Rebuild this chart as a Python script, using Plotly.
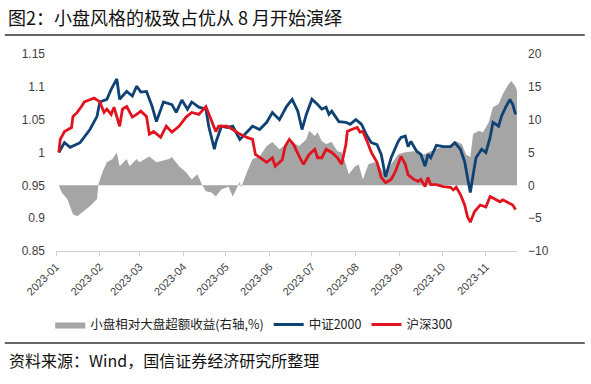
import plotly.graph_objects as go

# 中证2000 (left axis, normalized)
zz2000_dates = ["2023-01-03","2023-01-07","2023-01-11","2023-01-18","2023-01-25","2023-01-30","2023-02-01","2023-02-06",
"2023-02-09","2023-02-13","2023-02-15","2023-02-20","2023-02-24","2023-02-27","2023-03-02","2023-03-06","2023-03-10",
"2023-03-13","2023-03-18","2023-03-24","2023-03-27","2023-03-31","2023-04-04","2023-04-07","2023-04-12","2023-04-17",
"2023-04-19","2023-04-23","2023-04-24","2023-04-28","2023-05-02","2023-05-06","2023-05-11","2023-05-16","2023-05-20",
"2023-05-25","2023-05-30","2023-06-03","2023-06-08","2023-06-13","2023-06-17","2023-06-21","2023-06-24","2023-06-27",
"2023-07-01","2023-07-05","2023-07-08","2023-07-11","2023-07-13","2023-07-15","2023-07-20","2023-07-25","2023-07-28",
"2023-08-01","2023-08-05","2023-08-09","2023-08-12","2023-08-16","2023-08-19","2023-08-22","2023-08-26","2023-08-31",
"2023-09-02","2023-09-05","2023-09-07","2023-09-09","2023-09-13","2023-09-16","2023-09-19","2023-09-21","2023-09-23",
"2023-09-27","2023-10-02","2023-10-07","2023-10-10","2023-10-14","2023-10-17","2023-10-19","2023-10-21","2023-10-23",
"2023-10-25","2023-10-29","2023-11-01","2023-11-04","2023-11-06","2023-11-10","2023-11-12","2023-11-15","2023-11-18",
"2023-11-20","2023-11-22"]
zz2000_values = [1.000,1.015,1.008,1.015,1.035,1.055,1.077,1.081,
1.096,1.112,1.081,1.093,1.086,1.101,1.092,1.093,1.070,
1.047,1.077,1.073,1.061,1.080,1.066,1.077,1.069,1.066,
1.040,1.005,1.015,1.040,1.038,1.040,1.020,1.032,1.040,
1.035,1.046,1.061,1.050,1.070,1.081,1.063,1.035,1.058,
1.081,1.073,1.066,1.069,1.058,1.063,1.047,1.046,1.043,
1.050,1.043,1.025,1.015,1.012,0.997,0.963,0.992,1.017,
1.023,1.025,1.009,1.017,1.002,0.997,0.979,0.997,0.992,
1.011,1.009,1.009,1.015,1.005,0.986,0.962,0.939,0.966,
0.992,1.005,1.000,1.023,1.046,1.040,1.055,1.069,1.081,
1.073,1.058]

# 沪深300 (left axis, normalized)
hs300_dates = ["2023-01-03","2023-01-04","2023-01-07","2023-01-12","2023-01-13","2023-01-16","2023-01-19","2023-01-21",
"2023-01-28","2023-02-01","2023-02-04","2023-02-06","2023-02-09","2023-02-11","2023-02-15","2023-02-17","2023-02-20",
"2023-02-24","2023-02-27","2023-03-02","2023-03-06","2023-03-08","2023-03-11","2023-03-16","2023-03-20","2023-03-24",
"2023-03-29","2023-04-03","2023-04-07","2023-04-12","2023-04-17","2023-04-21","2023-04-24","2023-04-26","2023-05-02",
"2023-05-06","2023-05-11","2023-05-16","2023-05-20","2023-05-22","2023-05-27","2023-05-30","2023-06-03","2023-06-05",
"2023-06-10","2023-06-12","2023-06-15","2023-06-18","2023-06-22","2023-06-25","2023-06-29","2023-07-03","2023-07-05",
"2023-07-08","2023-07-11","2023-07-15","2023-07-19","2023-07-22","2023-07-25","2023-07-26","2023-07-29","2023-08-02",
"2023-08-04","2023-08-06","2023-08-09","2023-08-12","2023-08-16","2023-08-19","2023-08-22","2023-08-26","2023-08-29",
"2023-08-31","2023-09-02","2023-09-05","2023-09-07","2023-09-11","2023-09-14","2023-09-16","2023-09-19","2023-09-21",
"2023-09-23","2023-09-27","2023-10-02","2023-10-07","2023-10-09","2023-10-11","2023-10-14","2023-10-17","2023-10-19",
"2023-10-21","2023-10-24","2023-10-28","2023-11-01","2023-11-04","2023-11-08","2023-11-11","2023-11-13","2023-11-17",
"2023-11-20","2023-11-22"]
hs300_values = [1.000,1.020,1.032,1.038,1.055,1.061,1.070,1.077,
1.083,1.077,1.061,1.066,1.058,1.069,1.040,1.066,1.070,
1.054,1.058,1.063,1.055,1.028,1.032,1.023,1.040,1.031,
1.040,1.054,1.061,1.058,1.070,1.047,1.032,1.040,1.040,
1.035,1.028,1.023,1.020,0.997,0.989,0.985,0.992,0.979,
0.989,1.009,1.020,1.012,0.994,0.982,0.997,1.005,0.992,
0.992,1.005,1.000,0.992,0.982,1.012,1.032,1.035,1.038,
1.031,1.032,1.017,1.000,0.985,0.962,0.954,0.959,0.971,
0.982,0.994,0.982,0.966,0.959,0.956,0.959,0.948,0.962,
0.951,0.951,0.948,0.947,0.943,0.947,0.936,0.920,0.902,
0.894,0.910,0.920,0.917,0.933,0.928,0.925,0.928,0.924,
0.920,0.913]

# 小盘相对大盘超额收益 (right axis, %)
excess_dates = ["2023-01-03","2023-01-05","2023-01-09","2023-01-13","2023-01-16","2023-01-20","2023-01-25","2023-01-30",
"2023-01-31","2023-02-03","2023-02-06","2023-02-10","2023-02-13","2023-02-15","2023-02-20","2023-02-22","2023-02-27",
"2023-03-01","2023-03-08","2023-03-13","2023-03-17","2023-03-22","2023-03-24","2023-03-29","2023-04-03","2023-04-07",
"2023-04-11","2023-04-14","2023-04-17","2023-04-21","2023-04-24","2023-04-28","2023-05-03","2023-05-06","2023-05-11",
"2023-05-12","2023-05-16","2023-05-20","2023-05-25","2023-05-30","2023-06-03","2023-06-08","2023-06-13","2023-06-17",
"2023-06-22","2023-06-27","2023-06-29","2023-07-03","2023-07-05","2023-07-08","2023-07-11","2023-07-15","2023-07-19",
"2023-07-22","2023-07-25","2023-07-27","2023-07-31","2023-08-03","2023-08-06","2023-08-10","2023-08-14","2023-08-17",
"2023-08-22","2023-08-26","2023-08-31","2023-09-04","2023-09-11","2023-09-18","2023-09-23","2023-09-30","2023-10-07",
"2023-10-11","2023-10-15","2023-10-18","2023-10-21","2023-10-23","2023-10-27","2023-10-30","2023-11-03","2023-11-06",
"2023-11-10","2023-11-13","2023-11-17","2023-11-19","2023-11-22","2023-11-23"]
excess_values = [0.0,-1.1,-2.1,-4.4,-4.7,-4.0,-3.2,-2.1,
0.2,2.1,3.5,4.0,5.0,2.9,4.0,2.9,4.0,
3.5,4.4,3.5,3.7,4.0,4.3,2.9,2.0,0.9,
1.7,0.2,-0.9,-1.1,-1.7,-0.6,-0.2,-1.7,0.5,
-0.3,2.0,4.0,4.4,6.0,6.6,5.5,6.3,6.6,
6.0,7.0,8.3,7.5,8.1,6.7,6.3,6.6,5.2,
5.0,3.2,1.7,2.8,3.2,0.9,3.2,3.5,3.2,
1.4,3.2,4.7,5.0,5.2,4.7,5.2,5.8,6.0,
6.7,6.3,4.7,4.3,7.8,8.3,8.1,9.6,11.9,
12.4,13.9,15.4,15.9,15.0,14.4]

month_ticks = ["2023-01-01","2023-02-01","2023-03-01","2023-04-01","2023-05-01","2023-06-01",
               "2023-07-01","2023-08-01","2023-09-01","2023-10-01","2023-11-01"]
month_labels = ["2023-01","2023-02","2023-03","2023-04","2023-05","2023-06",
                "2023-07","2023-08","2023-09","2023-10","2023-11"]
left_ticks = [0.85, 0.9, 0.95, 1.0, 1.05, 1.1, 1.15]
left_labels = ["0.85", "0.9", "0.95", "1", "1.05", "1.1", "1.15"]
right_ticks = [-10, -5, 0, 5, 10, 15, 20]
right_labels = ["−10", "−5", "0", "5", "10", "15", "20"]

GRAY = "#A5A5A5"
BLUE = "#0E4275"
RED = "#E0141E"
TICKFONT = dict(family="Liberation Sans, Arial", size=12, color="#404040")

fig = go.Figure()
fig.add_trace(go.Scatter(x=excess_dates, y=excess_values, name="小盘相对大盘超额收益(右轴,%)",
                         mode="lines", line=dict(width=0, color=GRAY), fill="tozeroy",
                         fillcolor=GRAY, yaxis="y"))
fig.add_trace(go.Scatter(x=zz2000_dates, y=zz2000_values, name="中证2000", mode="lines",
                         line=dict(color=BLUE, width=2.8), yaxis="y2"))
fig.add_trace(go.Scatter(x=hs300_dates, y=hs300_values, name="沪深300", mode="lines",
                         line=dict(color=RED, width=2.8), yaxis="y2"))

fig.update_layout(
    width=591, height=384,
    margin=dict(l=56, r=74, t=54, b=133),
    paper_bgcolor="white", plot_bgcolor="white",
    showlegend=True,
    legend=dict(orientation="h", x=0.43, xanchor="center", y=-0.375, yanchor="middle",
                font=dict(family="Noto Sans CJK SC", size=12.5, color="#222"),
                itemwidth=30, bgcolor="rgba(0,0,0,0)", traceorder="normal"),
    xaxis=dict(type="date", range=["2023-01-01", "2023-11-23"], tickvals=month_ticks,
               ticktext=month_labels, tickangle=-45, showgrid=False, zeroline=False,
               showline=True, linecolor="#D0D0D0", linewidth=1, ticks="outside",
               ticklen=4, tickcolor="#D0D0D0", automargin=False,
               tickfont=dict(family="Liberation Sans, Arial", size=11, color="#404040")),
    yaxis=dict(side="right", range=[-10, 20], tickvals=right_ticks, ticktext=right_labels,
               showgrid=False, zeroline=False, showline=False, ticks="", tickfont=TICKFONT,
               ticklabelstandoff=10, automargin=False),
    yaxis2=dict(side="left", overlaying="y", range=[0.85, 1.15], tickvals=left_ticks,
                ticktext=left_labels, showgrid=False, zeroline=False, showline=False,
                ticks="", tickfont=TICKFONT, ticklabelstandoff=10, automargin=False),
)

fig.add_annotation(text="图2：小盘风格的极致占优从 8 月开始演绎", xref="paper", yref="paper",
                   x=-0.108, y=1.188, xanchor="left", yanchor="middle", showarrow=False,
                   font=dict(family="Noto Sans CJK SC", size=18, color="#111"))
fig.add_annotation(text="资料来源：Wind，国信证券经济研究所整理", xref="paper", yref="paper",
                   x=-0.106, y=-0.553, xanchor="left", yanchor="middle", showarrow=False,
                   font=dict(family="Noto Sans CJK SC", size=16, color="#111"))
fig.add_shape(type="line", xref="paper", yref="paper", x0=-0.111, x1=1.147, y0=1.0964, y1=1.0964,
              line=dict(color="#333", width=1.5))
fig.add_shape(type="line", xref="paper", yref="paper", x0=-0.111, x1=1.147, y0=-0.467, y1=-0.467,
              line=dict(color="#333", width=1.5))

fig.write_html("out.html", config={"displayModeBar": False},
               post_script="document.body.style.margin='0';document.body.style.padding='0';")
